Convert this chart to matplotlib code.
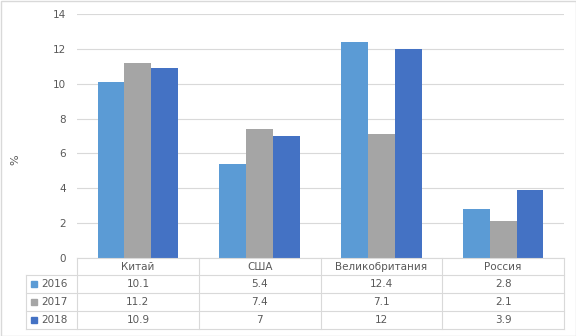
import matplotlib
matplotlib.use('Agg')
import matplotlib.pyplot as plt
from matplotlib.patches import Rectangle

countries = ['Китай', 'США', 'Великобритания', 'Россия']
years = ['2016', '2017', '2018']
v2016 = [10.1, 5.4, 12.4, 2.8]
v2017 = [11.2, 7.4, 7.1, 2.1]
v2018 = [10.9, 7, 12, 3.9]
series = [v2016, v2017, v2018]
colors = ['#5B9BD5', '#A5A5A5', '#4472C4']

W, H = 576, 336
txt = '#595959'
grid = '#D9D9D9'
plt.rcParams['font.family'] = ['DejaVu Sans']

fig = plt.figure(figsize=(W / 100, H / 100), dpi=100)

# plot area in pixels
left, right, top, bottom = 77, 564, 14, 258
ax = fig.add_axes([left / W, 1 - bottom / H, (right - left) / W, (bottom - top) / H])
n = len(countries)
bw = 0.22
for i, vals in enumerate(series):
    xs = [k + (i - 1) * bw for k in range(n)]
    ax.bar(xs, vals, width=bw, color=colors[i], zorder=3)
ax.set_xlim(-0.5, n - 0.5)
ax.set_ylim(0, 14)
ax.set_yticks(range(0, 15, 2))
ax.tick_params(axis='y', length=0, labelsize=7.5, labelcolor=txt, pad=8)
ax.set_xticks([])
ax.grid(axis='y', color=grid, linewidth=0.8, zorder=0)
for s in ax.spines.values():
    s.set_visible(False)

fig.text(15 / W, 1 - 160 / H, '%', rotation=90, fontsize=8, color=txt,
         ha='center', va='center')

# overlay in pixel coordinates for the data table
ov = fig.add_axes([0, 0, 1, 1], facecolor='none')
ov.set_xlim(0, W)
ov.set_ylim(H, 0)
ov.axis('off')

rows_y = [258, 275, 293, 311, 329]
col_x = [left + (right - left) * k / n for k in range(n + 1)]
lab_x = 26
lc = grid
ov.plot([left, right], [rows_y[0]] * 2, color=lc, lw=0.8)
for y in rows_y[1:]:
    ov.plot([lab_x, right], [y, y], color=lc, lw=0.8)
for x in col_x:
    ov.plot([x, x], [rows_y[0], rows_y[-1]], color=lc, lw=0.8)
ov.plot([lab_x, lab_x], [rows_y[1], rows_y[-1]], color=lc, lw=0.8)

for k, name in enumerate(countries):
    cx = (col_x[k] + col_x[k + 1]) / 2
    ov.text(cx, (rows_y[0] + rows_y[1]) / 2, name, ha='center', va='center',
            fontsize=7.5, color=txt)

for i, (yr, vals) in enumerate(zip(years, series)):
    cy = (rows_y[i + 1] + rows_y[i + 2]) / 2
    ov.add_patch(Rectangle((31, cy - 3), 6, 6, color=colors[i]))
    ov.text(41, cy, yr, ha='left', va='center', fontsize=7.5, color=txt)
    for k, v in enumerate(vals):
        cx = (col_x[k] + col_x[k + 1]) / 2
        ov.text(cx, cy, f'{v:g}', ha='center', va='center', fontsize=7.5, color=txt)

# outer chart border
ov.add_patch(Rectangle((0.5, 0.5), W - 1, H - 1, fill=False, edgecolor=grid, lw=1))

fig.savefig('out.png', dpi=100)
